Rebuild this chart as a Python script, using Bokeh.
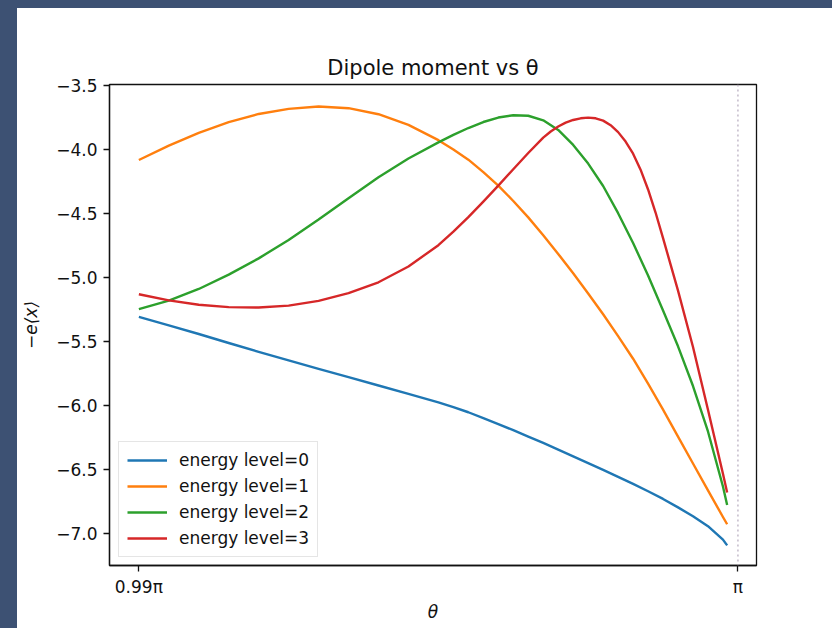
from bokeh.plotting import figure
from bokeh.models import (Range1d, FixedTicker, Span, Legend, LegendItem, Spacer,
                          GlobalInlineStyleSheet)
from bokeh.layouts import column, row
from bokeh.embed import file_html
from bokeh.resources import INLINE

# theta in units of pi (levels 0-2)
theta_over_pi = [0.99, 0.9905, 0.991, 0.9915, 0.992, 0.9925, 0.993, 0.9935, 0.994, 0.9945,
                 0.995, 0.99525, 0.9955, 0.99575, 0.996, 0.99625, 0.9965, 0.99675, 0.997,
                 0.99725, 0.9975, 0.99775, 0.998, 0.99825, 0.9985, 0.99875, 0.999, 0.99925,
                 0.9995, 0.99975, 0.99982]
level_0 = [-5.305, -5.371, -5.439, -5.509, -5.578, -5.645, -5.711, -5.776, -5.841, -5.906,
           -5.973, -6.010, -6.050, -6.095, -6.142, -6.190, -6.240, -6.290, -6.342, -6.394,
           -6.447, -6.500, -6.555, -6.610, -6.667, -6.727, -6.793, -6.862, -6.940, -7.045,
           -7.090]
level_1 = [-4.080, -3.968, -3.868, -3.784, -3.720, -3.680, -3.662, -3.675, -3.722, -3.805,
           -3.925, -3.998, -4.077, -4.175, -4.280, -4.400, -4.528, -4.667, -4.813, -4.965,
           -5.122, -5.285, -5.455, -5.632, -5.827, -6.030, -6.240, -6.450, -6.660, -6.868,
           -6.925]
level_2 = [-5.245, -5.178, -5.087, -4.975, -4.848, -4.704, -4.545, -4.378, -4.214, -4.068,
           -3.942, -3.884, -3.830, -3.783, -3.748, -3.730, -3.734, -3.770, -3.845, -3.962,
           -4.108, -4.283, -4.495, -4.728, -4.982, -5.255, -5.535, -5.845, -6.200, -6.630,
           -6.775]
# level 3 is read at a finer step around its sharp peak
theta_over_pi_level_3 = [0.99, 0.9905, 0.991, 0.9915, 0.992, 0.9925, 0.993, 0.9935, 0.994,
                         0.9945, 0.995, 0.99525, 0.9955, 0.99575, 0.996, 0.99625, 0.9965,
                         0.99675, 0.996875, 0.997, 0.997125, 0.99725, 0.997375, 0.9975,
                         0.997625, 0.99775, 0.997875, 0.998, 0.998125, 0.99825, 0.998375,
                         0.9985, 0.998625, 0.99875, 0.998875, 0.999, 0.99925, 0.9995,
                         0.99975, 0.99982]
level_3 = [-5.128, -5.176, -5.210, -5.229, -5.232, -5.217, -5.180, -5.120, -5.035, -4.912,
           -4.745, -4.640, -4.526, -4.405, -4.280, -4.152, -4.025, -3.905, -3.857, -3.818,
           -3.788, -3.767, -3.754, -3.749, -3.754, -3.772, -3.808, -3.862, -3.936, -4.030,
           -4.155, -4.310, -4.490, -4.690, -4.895, -5.100, -5.540, -6.030, -6.530, -6.677]
series_labels = ["energy level=0", "energy level=1", "energy level=2", "energy level=3"]
series_colors = ["#1f77b4", "#ff7f0e", "#2ca02c", "#d62728"]
x_tick_values = [0.99, 1]
x_tick_labels = ["0.99π", "π"]
y_tick_values = [-3.5, -4.0, -4.5, -5.0, -5.5, -6.0, -6.5, -7.0]
y_tick_labels = ["−3.5", "−4.0", "−4.5", "−5.0", "−5.5", "−6.0", "−6.5", "−7.0"]

FONT = "DejaVu Sans"
DARK = "#3d5173"
INK = "#111111"

p = figure(width=815, height=620, output_backend="svg", toolbar_location=None,
           x_range=Range1d(0.98951, 1.00031), y_range=Range1d(-7.247, -3.49),
           min_border_left=92, min_border_right=76, min_border_top=76, min_border_bottom=63,
           background_fill_color="white", border_fill_color="white")

xs_list = [theta_over_pi, theta_over_pi, theta_over_pi, theta_over_pi_level_3]
ys_list = [level_0, level_1, level_2, level_3]
renderers = []
for xs, ys, c in zip(xs_list, ys_list, series_colors):
    renderers.append(p.line(xs, ys, line_color=c, line_width=2.4, line_join="round"))

p.add_layout(Span(location=1.0, dimension="height", line_color="#b4a8bc",
                  line_dash="2 3", line_width=1.5, line_alpha=0.8))

p.title.text = "Dipole moment vs θ"
p.title.align = "center"
p.title.text_font = FONT
p.title.text_font_size = "21px"
p.title.text_font_style = "normal"
p.title.text_color = INK

p.xgrid.visible = False
p.ygrid.visible = False
p.outline_line_color = INK
p.outline_line_width = 1.3

p.xaxis.ticker = FixedTicker(ticks=x_tick_values)
p.xaxis.major_label_overrides = dict(zip(x_tick_values, x_tick_labels))
p.yaxis.ticker = FixedTicker(ticks=y_tick_values)
p.yaxis.major_label_overrides = dict(zip(y_tick_values, y_tick_labels))
p.xaxis.axis_label = "θ"
p.yaxis.axis_label = "−e⟨x⟩"
for ax in (p.xaxis[0], p.yaxis[0]):
    ax.axis_line_color = INK
    ax.axis_line_width = 1.3
    ax.major_tick_line_color = INK
    ax.major_tick_line_width = 1.3
    ax.major_tick_out = 6
    ax.major_tick_in = 0
    ax.minor_tick_out = 0
    ax.minor_tick_in = 0
    ax.major_label_text_font = FONT
    ax.major_label_text_font_size = "17px"
    ax.major_label_text_color = INK
    ax.axis_label_text_font = FONT
    ax.axis_label_text_font_size = "17px"
    ax.axis_label_text_font_style = "italic"
    ax.axis_label_text_color = INK
p.xaxis.major_label_standoff = 5
p.xaxis.axis_label_standoff = 2
p.yaxis.major_label_standoff = 6
p.yaxis.axis_label_standoff = 12

legend = Legend(items=[LegendItem(label=l, renderers=[r]) for l, r in zip(series_labels, renderers)],
                location=(9, 8))
legend.label_text_font = FONT
legend.label_text_font_size = "17px"
legend.label_text_color = INK
legend.glyph_width = 40
legend.glyph_height = 20
legend.label_height = 20
legend.spacing = 6
legend.padding = 8
legend.margin = 0
legend.label_standoff = 12
legend.border_line_color = "#cccccc"
legend.border_line_width = 1
legend.background_fill_alpha = 0.8
p.add_layout(legend)

css = GlobalInlineStyleSheet(css="html, body { margin: 0; padding: 0; background: #ffffff; }")
top = Spacer(width=832, height=8, styles={"background-color": DARK})
left = Spacer(width=17, height=620, styles={"background-color": DARK})
layout = column(top, row(left, p, spacing=0), spacing=0, stylesheets=[css])

open("out.html", "w").write(file_html(layout, INLINE))
